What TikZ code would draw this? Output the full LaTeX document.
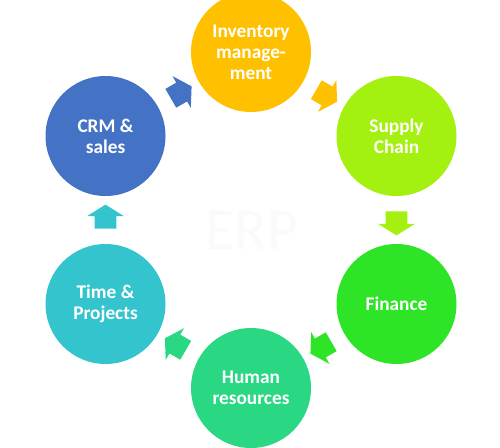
\documentclass[tikz,border=0pt]{standalone}
\usepackage{fontspec}
\setmainfont{Carlito}
\usetikzlibrary{shapes.arrows,calc}

\definecolor{invgold}{RGB}{255,192,0}
\definecolor{supplime}{RGB}{164,240,16}
\definecolor{fingreen}{RGB}{46,228,38}
\definecolor{hrgreen}{RGB}{42,216,132}
\definecolor{timecyan}{RGB}{52,196,206}
\definecolor{crmblue}{RGB}{68,114,196}

\begin{document}
\begin{tikzpicture}[
    font=\bfseries\fontsize{11}{12}\selectfont,
    mod/.style={circle, minimum size=2.4cm, inner sep=0pt, text=white, align=center},
    blk/.style={single arrow, draw=none, inner xsep=0pt, inner ysep=0.21cm,
      minimum height=0.48cm, single arrow head extend=0.15cm, single arrow tip angle=116},
  ]
  \useasboundingbox (0,0) rectangle (10,8.94);
  \coordinate (c) at (5.02,4.54);

  %% ---- faint ERP in the middle ---------------------------------------
  \node[text=black!2, font=\fontsize{34}{34}\selectfont] (erp) at (5.04,4.34) {ERP};

  %% ---- the six modules round the hexagon -----------------------------
  \node[mod, fill=invgold]  (inv)    at ($(c)+(90:3.36)$)   {Inventory\\manage-\\ment};
  \node[mod, fill=supplime] (supply) at ($(c)+(30:3.36)$)   {Supply\\Chain};
  \node[mod, fill=fingreen] (fin)    at ($(c)+(-30:3.36)$)  {Finance};
  \node[mod, fill=hrgreen]  (hr)     at ($(c)+(-90:3.36)$)  {Human\\resources};
  \node[mod, fill=timecyan] (time)   at ($(c)+(-150:3.36)$) {Time \&\\Projects};
  \node[mod, fill=crmblue]  (crm)    at ($(c)+(150:3.36)$)  {CRM \&\\sales};

  %% ---- block arrows between neighbours --------------------------------
  \node[blk, fill=invgold,  rotate=-30]  (invsup)  at ($(inv)!0.5!(supply)$) {};
  \node[blk, fill=supplime, rotate=-90]  (supfin)  at ($(supply)!0.5!(fin)$) {};
  \node[blk, fill=fingreen, rotate=-150] (finhr)   at ($(fin)!0.5!(hr)$) {};
  \node[blk, fill=hrgreen,  rotate=150]  (hrtime)  at ($(hr)!0.5!(time)$) {};
  \node[blk, fill=timecyan, rotate=90]   (timecrm) at ($(time)!0.5!(crm)$) {};
  \node[blk, fill=crmblue,  rotate=30]   (crminv)  at ($(crm)!0.5!(inv)$) {};
\end{tikzpicture}
\end{document}
